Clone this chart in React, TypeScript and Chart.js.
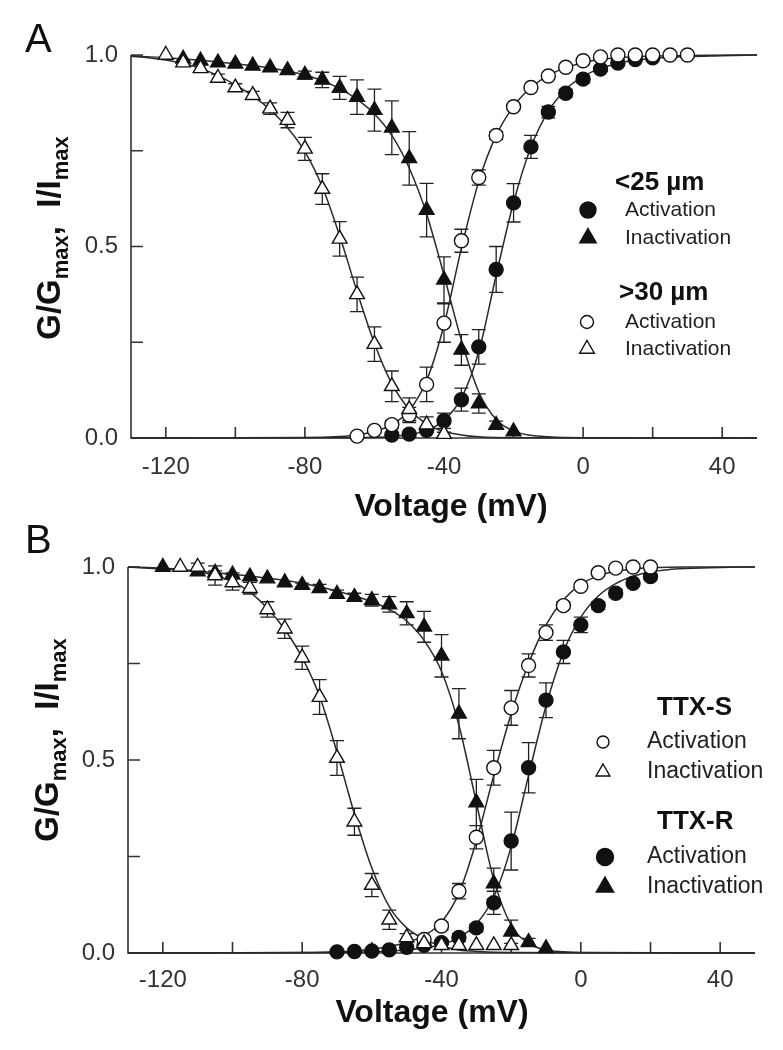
import React, { useEffect, useRef } from 'react';
import { Chart, registerables } from 'chart.js';

Chart.register(...registerables);

const FONT = "'Liberation Sans', Arial, Helvetica, sans-serif";
const INK = '#111';
const AXIS = '#333';

// ---------------- Panel A data ----------------
// <25 µm activation (filled circles)
const aAct25V = [-55, -50, -45, -40, -35, -30, -25, -20, -15, -10, -5, 0, 5, 10, 15, 20];
const aAct25 = [0.008, 0.01, 0.02, 0.045, 0.1, 0.238, 0.44, 0.614, 0.76, 0.851, 0.9, 0.937, 0.963, 0.979, 0.988, 0.993];
const aAct25Err = [0, 0, 0.005, 0.02, 0.03, 0.045, 0.06, 0.05, 0.03, 0.015, 0.01, 0.01, 0.005, 0, 0, 0];
// <25 µm inactivation (filled triangles)
const aInact25V = [-115, -110, -105, -100, -95, -90, -85, -80, -75, -70, -65, -60, -55, -50, -45, -40, -35, -30, -25, -20];
const aInact25 = [0.99, 0.985, 0.98, 0.977, 0.972, 0.967, 0.96, 0.948, 0.935, 0.914, 0.89, 0.856, 0.81, 0.73, 0.595, 0.413, 0.23, 0.09, 0.034, 0.017];
const aInact25Err = [0, 0, 0, 0, 0, 0, 0, 0.01, 0.02, 0.03, 0.045, 0.055, 0.07, 0.07, 0.07, 0.06, 0.04, 0.025, 0.01, 0];
// >30 µm activation (open circles)
const aAct30V = [-65, -60, -55, -50, -45, -40, -35, -30, -25, -20, -15, -10, -5, 0, 5, 10, 15, 20, 25, 30];
const aAct30 = [0.005, 0.02, 0.035, 0.06, 0.14, 0.3, 0.515, 0.68, 0.79, 0.865, 0.915, 0.945, 0.968, 0.985, 0.995, 1.0, 1.0, 1.0, 1.0, 1.0];
const aAct30Err = [0, 0.005, 0.01, 0.02, 0.045, 0.05, 0.03, 0.02, 0.01, 0.005, 0, 0, 0, 0, 0, 0, 0, 0, 0, 0];
// >30 µm inactivation (open triangles)
const aInact30V = [-120, -115, -110, -105, -100, -95, -90, -85, -80, -75, -70, -65, -60, -55, -50, -45, -40];
const aInact30 = [1.0, 0.98, 0.965, 0.94, 0.915, 0.895, 0.86, 0.83, 0.755, 0.65, 0.52, 0.375, 0.245, 0.135, 0.075, 0.035, 0.01];
const aInact30Err = [0, 0.005, 0.01, 0.01, 0.01, 0.01, 0.015, 0.02, 0.03, 0.04, 0.045, 0.045, 0.045, 0.04, 0.03, 0.02, 0.005];

// fitted curves, panel A
const aFitInact25V = [-130, -120, -110, -100, -90, -80, -75, -70, -65, -60, -55, -50, -45, -40, -35, -30, -25, -20, -15, -10, 0, 50];
const aFitInact25 = [0.998, 0.993, 0.986, 0.977, 0.966, 0.948, 0.933, 0.912, 0.884, 0.846, 0.79, 0.705, 0.585, 0.425, 0.255, 0.12, 0.048, 0.018, 0.007, 0.003, 0.0005, 0];
const aFitInact30V = [-130, -125, -120, -115, -110, -105, -100, -95, -90, -85, -80, -75, -70, -65, -60, -55, -50, -45, -40, -35, -30, -20, 50];
const aFitInact30 = [0.997, 0.993, 0.987, 0.978, 0.965, 0.946, 0.922, 0.893, 0.857, 0.81, 0.748, 0.656, 0.528, 0.382, 0.247, 0.142, 0.075, 0.037, 0.017, 0.008, 0.003, 0.0005, 0];
const aFitAct30V = [-130, -80, -70, -65, -60, -55, -50, -45, -40, -35, -30, -25, -20, -15, -10, -5, 0, 5, 10, 20, 30, 50];
const aFitAct30 = [0, 0.001, 0.004, 0.008, 0.017, 0.035, 0.072, 0.15, 0.295, 0.495, 0.67, 0.79, 0.866, 0.915, 0.947, 0.967, 0.98, 0.988, 0.993, 0.997, 0.999, 1.0];
const aFitAct25V = [-130, -70, -60, -55, -50, -45, -40, -35, -30, -25, -20, -15, -10, -5, 0, 5, 10, 15, 20, 30, 40, 50];
const aFitAct25 = [0, 0.0005, 0.002, 0.004, 0.009, 0.02, 0.046, 0.104, 0.225, 0.425, 0.615, 0.76, 0.853, 0.91, 0.944, 0.965, 0.978, 0.986, 0.991, 0.996, 0.998, 1.0];

// ---------------- Panel B data ----------------
// TTX-S activation (open circles)
const bActSV = [-45, -40, -35, -30, -25, -20, -15, -10, -5, 0, 5, 10, 15, 20];
const bActS = [0.035, 0.07, 0.16, 0.3, 0.48, 0.635, 0.745, 0.83, 0.9, 0.95, 0.985, 0.997, 1.0, 1.0];
const bActSErr = [0.005, 0.01, 0.02, 0.03, 0.045, 0.045, 0.03, 0.02, 0.01, 0.005, 0, 0, 0, 0];
// TTX-S inactivation (open triangles)
const bInactSV = [-115, -110, -105, -100, -95, -90, -85, -80, -75, -70, -65, -60, -55, -50, -45, -40, -35, -30, -25, -20];
const bInactS = [1.0, 1.0, 0.978, 0.96, 0.945, 0.89, 0.84, 0.765, 0.663, 0.505, 0.34, 0.176, 0.086, 0.04, 0.025, 0.02, 0.02, 0.02, 0.02, 0.02];
const bInactSErr = [0, 0.01, 0.025, 0.02, 0.015, 0.02, 0.025, 0.03, 0.045, 0.045, 0.035, 0.03, 0.025, 0.01, 0.005, 0, 0, 0, 0, 0];
// TTX-R activation (filled circles)
const bActRV = [-70, -65, -60, -55, -50, -45, -40, -35, -30, -25, -20, -15, -10, -5, 0, 5, 10, 15, 20];
const bActR = [0.003, 0.004, 0.005, 0.008, 0.015, 0.02, 0.027, 0.04, 0.065, 0.13, 0.29, 0.48, 0.655, 0.78, 0.85, 0.9, 0.932, 0.958, 0.975];
const bActRErr = [0, 0, 0, 0, 0, 0, 0.005, 0.01, 0.01, 0.03, 0.075, 0.065, 0.045, 0.03, 0.02, 0.01, 0.01, 0, 0];
// TTX-R inactivation (filled triangles)
const bInactRV = [-120, -110, -105, -100, -95, -90, -85, -80, -75, -70, -65, -60, -55, -50, -45, -40, -35, -30, -25, -20, -15, -10];
const bInactR = [1.0, 0.988, 0.985, 0.98, 0.975, 0.97, 0.96, 0.953, 0.945, 0.93, 0.922, 0.914, 0.903, 0.88, 0.845, 0.77, 0.62, 0.39, 0.18, 0.055, 0.028, 0.012];
const bInactRErr = [0, 0, 0.005, 0.005, 0, 0, 0, 0.005, 0.01, 0.01, 0.01, 0.015, 0.02, 0.03, 0.04, 0.055, 0.065, 0.06, 0.04, 0.03, 0.01, 0];

// fitted curves, panel B
const bFitInactSV = [-130, -120, -115, -110, -105, -100, -95, -90, -85, -80, -75, -70, -65, -60, -55, -50, -45, -40, -35, -30, -20, 50];
const bFitInactS = [1.0, 0.997, 0.994, 0.988, 0.978, 0.962, 0.935, 0.893, 0.838, 0.765, 0.665, 0.52, 0.36, 0.22, 0.12, 0.065, 0.036, 0.018, 0.008, 0.004, 0.001, 0];
const bFitActSV = [-130, -80, -70, -60, -55, -50, -45, -40, -35, -30, -25, -20, -15, -10, -5, 0, 5, 10, 15, 20, 30, 50];
const bFitActS = [0, 0.001, 0.003, 0.01, 0.017, 0.027, 0.045, 0.08, 0.155, 0.29, 0.46, 0.62, 0.75, 0.85, 0.915, 0.955, 0.977, 0.989, 0.995, 0.998, 1.0, 1.0];
const bFitInactRV = [-130, -120, -110, -100, -90, -80, -70, -65, -60, -55, -50, -45, -40, -35, -30, -25, -20, -15, -10, -5, 0, 50];
const bFitInactR = [1.0, 0.995, 0.989, 0.981, 0.971, 0.958, 0.938, 0.925, 0.91, 0.89, 0.86, 0.81, 0.73, 0.59, 0.39, 0.19, 0.072, 0.025, 0.008, 0.003, 0.001, 0];
const bFitActRV = [-130, -70, -60, -50, -45, -40, -35, -30, -25, -20, -15, -10, -5, 0, 5, 10, 15, 20, 25, 30, 40, 50];
const bFitActR = [0, 0.001, 0.003, 0.008, 0.013, 0.022, 0.04, 0.075, 0.145, 0.275, 0.46, 0.64, 0.78, 0.87, 0.925, 0.957, 0.976, 0.987, 0.993, 0.996, 0.999, 1.0];

// axis ticks
const xTickValues = [-120, -100, -80, -60, -40, -20, 0, 20, 40];
const xTickLabels = ['-120', '', '-80', '', '-40', '', '0', '', '40'];
const yTickValues = [0, 0.25, 0.5, 0.75, 1.0];
const yTickLabels = ['0.0', '', '0.5', '', '1.0'];

type Marker = 'circle' | 'triangle';
type Series = { v: number[]; y: number[]; err: number[]; marker: Marker; filled: boolean };
type Curve = { v: number[]; y: number[] };
type LegendRow = { kind: 'head'; text: string; x: number; y: number } | { kind: 'item'; text: string; x: number; y: number; mx: number; marker: Marker; filled: boolean; r: number };

type PanelSpec = {
  label: string; labelX: number; labelY: number;
  series: Series[]; curves: Curve[];
  area: { left: number; top: number; right: number; bottom: number };
  height: number;
  xTickPad: number; yTickPad: number;
  xTitle: { x: number; y: number };
  yTitle: { x: number; y: number };
  legend: LegendRow[];
  legendFont: number; headFont: number;
};

function drawMarker(ctx: CanvasRenderingContext2D, x: number, y: number, marker: Marker, r: number, filled: boolean) {
  ctx.save();
  ctx.beginPath();
  if (marker === 'circle') {
    ctx.arc(x, y, r, 0, Math.PI * 2);
  } else {
    ctx.moveTo(x, y - r);
    ctx.lineTo(x + r * Math.sin(2 * Math.PI / 3), y + r * 0.5);
    ctx.lineTo(x - r * Math.sin(2 * Math.PI / 3), y + r * 0.5);
    ctx.closePath();
  }
  ctx.fillStyle = filled ? INK : '#fff';
  ctx.fill();
  ctx.lineWidth = 1.4;
  ctx.strokeStyle = INK;
  ctx.stroke();
  ctx.restore();
}

function makePlugin(spec: PanelSpec) {
  return {
    id: 'panelDecor' + spec.label,
    beforeDatasetsDraw(chart: any) {
      const ctx: CanvasRenderingContext2D = chart.ctx;
      const xs = chart.scales.x;
      const ys = chart.scales.y;
      const { left, right, top, bottom } = chart.chartArea;
      ctx.save();
      ctx.strokeStyle = AXIS;
      ctx.lineWidth = 1.6;
      ctx.beginPath();
      ctx.moveTo(left, top);
      ctx.lineTo(left, bottom);
      ctx.lineTo(right, bottom);
      xTickValues.forEach((v) => {
        const px = xs.getPixelForValue(v);
        ctx.moveTo(px, bottom);
        ctx.lineTo(px, bottom - 11);
      });
      yTickValues.forEach((v) => {
        if (v === 0) return;
        const py = ys.getPixelForValue(v);
        ctx.moveTo(left, py);
        ctx.lineTo(left + 12, py);
      });
      ctx.stroke();
      // error bars
      ctx.strokeStyle = '#222';
      ctx.lineWidth = 1.3;
      ctx.beginPath();
      spec.series.forEach((s) => {
        s.v.forEach((v, k) => {
          const e = s.err[k];
          if (!e) return;
          const px = xs.getPixelForValue(v);
          const y1 = ys.getPixelForValue(s.y[k] + e);
          const y2 = ys.getPixelForValue(s.y[k] - e);
          ctx.moveTo(px, y1);
          ctx.lineTo(px, y2);
          ctx.moveTo(px - 7, y1);
          ctx.lineTo(px + 7, y1);
          ctx.moveTo(px - 7, y2);
          ctx.lineTo(px + 7, y2);
        });
      });
      ctx.stroke();
      ctx.restore();
    },
    afterDraw(chart: any) {
      const ctx: CanvasRenderingContext2D = chart.ctx;
      ctx.save();
      ctx.fillStyle = INK;
      // panel letter
      ctx.font = `40px ${FONT}`;
      ctx.textAlign = 'left';
      ctx.textBaseline = 'alphabetic';
      ctx.fillText(spec.label, spec.labelX, spec.labelY);
      // x title
      ctx.font = `bold 32px ${FONT}`;
      ctx.textAlign = 'center';
      ctx.textBaseline = 'middle';
      ctx.fillText('Voltage (mV)', spec.xTitle.x, spec.xTitle.y);
      // y title with subscripts
      const segs = [
        { t: 'G/G', sub: false },
        { t: 'max', sub: true },
        { t: ',  ', sub: false },
        { t: 'I/I', sub: false },
        { t: 'max', sub: true },
      ];
      const mainF = `bold 33px ${FONT}`;
      const subF = `bold 22px ${FONT}`;
      let total = 0;
      segs.forEach((s) => {
        ctx.font = s.sub ? subF : mainF;
        total += ctx.measureText(s.t).width;
      });
      ctx.translate(spec.yTitle.x, spec.yTitle.y);
      ctx.rotate(-Math.PI / 2);
      ctx.textAlign = 'left';
      ctx.textBaseline = 'alphabetic';
      let cx = -total / 2;
      segs.forEach((s) => {
        ctx.font = s.sub ? subF : mainF;
        ctx.fillText(s.t, cx, s.sub ? 8 : 0);
        cx += ctx.measureText(s.t).width;
      });
      ctx.setTransform(1, 0, 0, 1, 0, 0);
      // legend
      ctx.textAlign = 'left';
      ctx.textBaseline = 'middle';
      spec.legend.forEach((row) => {
        if (row.kind === 'head') {
          ctx.font = `bold ${spec.headFont}px ${FONT}`;
          ctx.fillStyle = INK;
          ctx.fillText(row.text, row.x, row.y);
        } else {
          drawMarker(ctx, row.mx, row.y, row.marker, row.r, row.filled);
          ctx.font = `${spec.legendFont}px ${FONT}`;
          ctx.fillStyle = '#222';
          ctx.fillText(row.text, row.x, row.y);
        }
      });
      ctx.restore();
    },
  };
}

function makeConfig(spec: PanelSpec): any {
  const datasets: any[] = [];
  spec.curves.forEach((c) => {
    datasets.push({
      data: c.v.map((v, i) => ({ x: v, y: c.y[i] })),
      showLine: true,
      borderColor: '#2a2a2a',
      borderWidth: 1.5,
      pointRadius: 0,
      cubicInterpolationMode: 'monotone',
      fill: false,
      clip: false,
      order: 10,
    });
  });
  spec.series.forEach((s) => {
    datasets.push({
      data: s.v.map((v, i) => ({ x: v, y: s.y[i] })),
      showLine: false,
      pointStyle: s.marker,
      pointRadius: s.marker === 'circle' ? 7 : 8.5,
      pointBackgroundColor: s.filled ? INK : '#ffffff',
      pointBorderColor: INK,
      pointBorderWidth: 1.4,
      clip: false,
      order: s.filled ? 2 : 1,
    });
  });
  const canvasH = spec.height;
  return {
    type: 'scatter',
    data: { datasets },
    options: {
      responsive: false,
      animation: false,
      events: [],
      layout: { padding: { left: 0, top: spec.area.top, right: 783 - spec.area.right, bottom: 0 } },
      plugins: { legend: { display: false }, tooltip: { enabled: false } },
      scales: {
        x: {
          type: 'linear',
          min: -130,
          max: 50,
          grid: { display: false, drawTicks: false },
          border: { display: false },
          afterBuildTicks: (s: any) => { s.ticks = xTickValues.map((v) => ({ value: v })); },
          ticks: {
            autoSkip: false,
            maxRotation: 0,
            padding: spec.xTickPad,
            color: '#333',
            font: { family: FONT, size: 24 },
            callback: (_v: number, i: number) => xTickLabels[i],
          },
          afterFit: (s: any) => { s.height = canvasH - spec.area.bottom; },
        },
        y: {
          type: 'linear',
          min: 0,
          max: 1,
          grid: { display: false, drawTicks: false },
          border: { display: false },
          afterBuildTicks: (s: any) => { s.ticks = yTickValues.map((v) => ({ value: v })); },
          ticks: {
            autoSkip: false,
            padding: spec.yTickPad,
            color: '#333',
            font: { family: FONT, size: 24 },
            callback: (_v: number, i: number) => yTickLabels[i],
          },
          afterFit: (s: any) => { s.width = spec.area.left; },
        },
      },
    },
    plugins: [makePlugin(spec)],
  };
}

const PANEL_H = 525;

const specA: PanelSpec = {
  label: 'A', labelX: 25, labelY: 52,
  series: [
    { v: aInact30V, y: aInact30, err: aInact30Err, marker: 'triangle', filled: false },
    { v: aAct30V, y: aAct30, err: aAct30Err, marker: 'circle', filled: false },
    { v: aInact25V, y: aInact25, err: aInact25Err, marker: 'triangle', filled: true },
    { v: aAct25V, y: aAct25, err: aAct25Err, marker: 'circle', filled: true },
  ],
  curves: [
    { v: aFitInact25V, y: aFitInact25 },
    { v: aFitInact30V, y: aFitInact30 },
    { v: aFitAct30V, y: aFitAct30 },
    { v: aFitAct25V, y: aFitAct25 },
  ],
  area: { left: 131, top: 55, right: 757, bottom: 438 },
  height: PANEL_H,
  xTickPad: 15, yTickPad: 13,
  xTitle: { x: 451, y: 507 },
  yTitle: { x: 60, y: 238 },
  legendFont: 21, headFont: 26,
  legend: [
    { kind: 'head', text: '<25 µm', x: 615, y: 183 },
    { kind: 'item', text: 'Activation', x: 625, y: 210, mx: 588, marker: 'circle', filled: true, r: 8 },
    { kind: 'item', text: 'Inactivation', x: 625, y: 238, mx: 588, marker: 'triangle', filled: true, r: 9.5 },
    { kind: 'head', text: '>30 µm', x: 619, y: 293 },
    { kind: 'item', text: 'Activation', x: 625, y: 322, mx: 587, marker: 'circle', filled: false, r: 6.5 },
    { kind: 'item', text: 'Inactivation', x: 625, y: 349, mx: 587, marker: 'triangle', filled: false, r: 8.5 },
  ],
};

const specB: PanelSpec = {
  label: 'B', labelX: 25, labelY: 28,
  series: [
    { v: bInactSV, y: bInactS, err: bInactSErr, marker: 'triangle', filled: false },
    { v: bActSV, y: bActS, err: bActSErr, marker: 'circle', filled: false },
    { v: bInactRV, y: bInactR, err: bInactRErr, marker: 'triangle', filled: true },
    { v: bActRV, y: bActR, err: bActRErr, marker: 'circle', filled: true },
  ],
  curves: [
    { v: bFitInactSV, y: bFitInactS },
    { v: bFitActSV, y: bFitActS },
    { v: bFitInactRV, y: bFitInactR },
    { v: bFitActRV, y: bFitActR },
  ],
  area: { left: 128, top: 42, right: 755, bottom: 428 },
  height: PANEL_H,
  xTickPad: 13, yTickPad: 13,
  xTitle: { x: 432, y: 488 },
  yTitle: { x: 58, y: 215 },
  legendFont: 23, headFont: 26,
  legend: [
    { kind: 'head', text: 'TTX-S', x: 657, y: 183 },
    { kind: 'item', text: 'Activation', x: 647, y: 217, mx: 603, marker: 'circle', filled: false, r: 6 },
    { kind: 'item', text: 'Inactivation', x: 647, y: 247, mx: 603, marker: 'triangle', filled: false, r: 8 },
    { kind: 'head', text: 'TTX-R', x: 657, y: 297 },
    { kind: 'item', text: 'Activation', x: 647, y: 332, mx: 605, marker: 'circle', filled: true, r: 8.5 },
    { kind: 'item', text: 'Inactivation', x: 647, y: 362, mx: 605, marker: 'triangle', filled: true, r: 10 },
  ],
};

function Panel({ spec, top }: { spec: PanelSpec; top: number }) {
  const ref = useRef<HTMLCanvasElement | null>(null);
  useEffect(() => {
    if (!ref.current) return;
    const chart = new Chart(ref.current, makeConfig(spec));
    return () => chart.destroy();
  }, [spec]);
  return (
    <div style={{ position: 'absolute', left: 0, top, width: 783, height: PANEL_H }}>
      <canvas ref={ref} width={783} height={PANEL_H} style={{ display: 'block', width: 783, height: PANEL_H }} />
    </div>
  );
}

export default function App() {
  return (
    <div style={{ position: 'absolute', left: 0, top: 0, width: 783, height: 1050, background: '#fff', overflow: 'hidden' }}>
      <Panel spec={specA} top={0} />
      <Panel spec={specB} top={PANEL_H} />
    </div>
  );
}
